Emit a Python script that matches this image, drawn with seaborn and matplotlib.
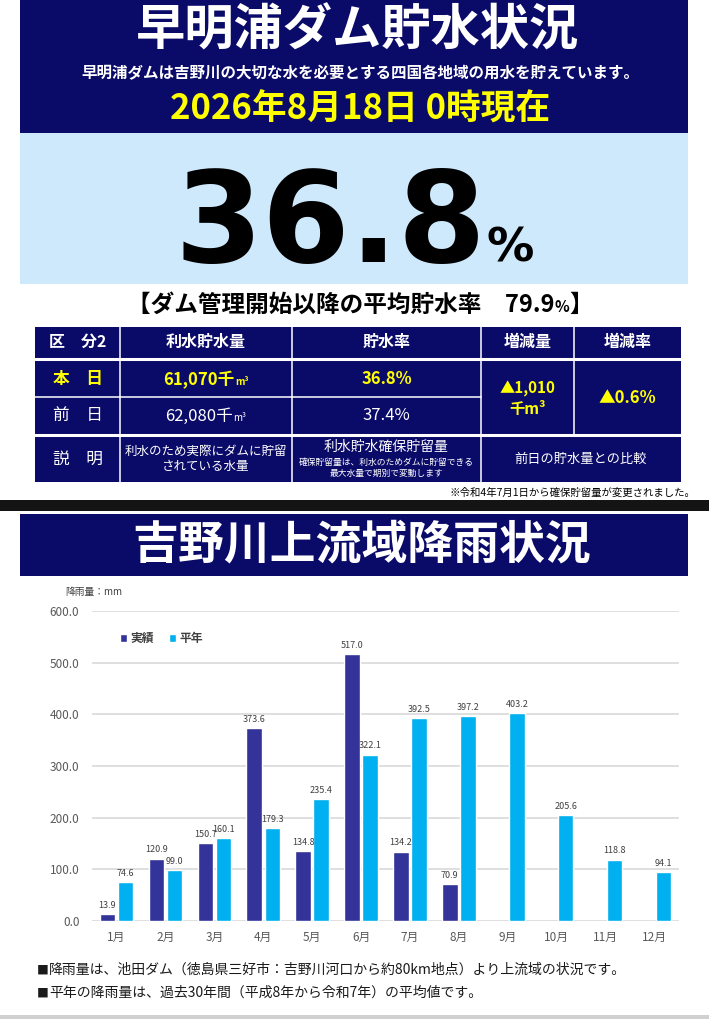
import numpy as np
import pandas as pd
import matplotlib
matplotlib.use('Agg')
import matplotlib.pyplot as plt
from matplotlib.patches import Rectangle
import seaborn as sns

sns.set_theme(style='white')
plt.rcParams['font.family'] = ['Noto Sans CJK JP', 'DejaVu Sans']

# ---- data ----
months = ['1月', '2月', '3月', '4月', '5月', '6月', '7月', '8月', '9月', '10月', '11月', '12月']
actual = [13.9, 120.9, 150.7, 373.6, 134.8, 517.0, 134.2, 70.9, np.nan, np.nan, np.nan, np.nan]
normal = [74.6, 99.0, 160.1, 179.3, 235.4, 322.1, 392.5, 397.2, 403.2, 205.6, 118.8, 94.1]
series = ['実績', '平年']
y_ticks = [0, 100, 200, 300, 400, 500, 600]

rate_today = '36.8'
rate_avg = '79.9'
vol_today = '61,070'
vol_prev = '62,080'
rate_prev = '37.4%'
vol_diff = '▲1,010'
rate_diff = '▲0.6%'

df = pd.DataFrame({
    '月': months * 2,
    '区分': [series[0]] * 12 + [series[1]] * 12,
    '降雨量': actual + normal,
})

NAVY = '#0a0a68'
LIGHTBOX = '#cde9fb'
YELLOW = '#ffff00'
DARK = '#333399'
LIGHT = '#00b0f0'
GREY = '#404040'

W, H = 709, 1023
fig = plt.figure(figsize=(W / 100, H / 100), dpi=100)
bg = fig.add_axes([0, 0, 1, 1])
bg.set_xlim(0, W)
bg.set_ylim(H, 0)
bg.axis('off')
renderer = fig.canvas.get_renderer()


def box(x0, y0, x1, y1, color, **kw):
    bg.add_patch(Rectangle((x0, y0), x1 - x0, y1 - y0, facecolor=color,
                           edgecolor='none', **kw))


def txt(x, y, s, size, color='white', weight='bold', ha='center', va='center', **kw):
    return bg.text(x, y, s, fontsize=size, color=color, fontweight=weight,
                   ha=ha, va=va, **kw)


def run(xc, y, parts, color='white', weight='bold', family=None, left=False):
    # several pieces of text on one baseline, centred as a group
    items = []
    for s, size in parts:
        t = bg.text(0, y, s, fontsize=size, color=color, fontweight=weight,
                    ha='left', va='baseline')
        if family:
            t.set_family(family)
        items.append((t, t.get_window_extent(renderer).width))
    x = xc if left else xc - sum(w for _, w in items) / 2
    for t, w in items:
        t.set_x(x)
        x += w


# ---- top banner ----
box(20, 0, 688, 133, NAVY)
txt(358, 31, '早明浦ダム貯水状況', 35.5)
txt(360, 73, '早明浦ダムは吉野川の大切な水を必要とする四国各地域の用水を貯えています。', 11.2)
txt(360, 109, '2026年8月18日 0時現在', 25, color=YELLOW)

box(20, 133, 688, 284, LIGHTBOX)
run(354, 262, [(rate_today, 91), ('%', 34)], color='black', family=['DejaVu Sans'])

run(360, 312, [('【ダム管理開始以降の平均貯水率　' + rate_avg, 17), ('%', 11), ('】', 17)],
    color='black')

# ---- table ----
box(35, 327, 681, 482, NAVY)
lw = 2.2
for yy in (358.5, 434.5):
    bg.plot([35, 681], [yy, yy], color='white', lw=lw)
bg.plot([35, 481], [397, 397], color='white', lw=1.1)
for xx in (120, 292, 481):
    bg.plot([xx, xx], [327, 482], color='white', lw=1.1)
bg.plot([574, 574], [327, 434], color='white', lw=1.1)

c1, c2, c3, c4, c5, c45 = 77.5, 206, 386.5, 527.5, 627.5, 581
for x, s in zip((c1, c2, c3, c4, c5), ('区　分2', '利水貯水量', '貯水率', '増減量', '増減率')):
    txt(x, 342, s, 11.5)

txt(c1, 379, '本　日', 12, color=YELLOW)
run(c2, 385, [(vol_today + '千', 12), ('m³', 7)], color=YELLOW)
txt(c3, 379, rate_today + '%', 12, color=YELLOW)
txt(c4, 389, vol_diff, 11, color=YELLOW)
run(c4, 414, [('千m³', 11)], color=YELLOW)
txt(c5, 398, rate_diff, 12, color=YELLOW)

txt(c1, 415, '前　日', 12, weight='normal')
run(c2, 421, [(vol_prev + '千', 12), ('m³', 7)], weight='normal')
txt(c3, 415, rate_prev, 12, weight='normal')

txt(c1, 459, '説　明', 12, weight='normal')
txt(c2, 459, '利水のため実際にダムに貯留\nされている水量', 9, weight='normal', linespacing=1.15)
txt(c3, 447, '利水貯水確保貯留量', 10, weight='normal')
txt(c3, 468, '確保貯留量は、利水のためダムに貯留できる\n最大水量で期別で変動します', 6.3,
    weight='normal', linespacing=1.25)
txt(c45, 459, '前日の貯水量との比較', 9.5, weight='normal')

txt(695, 493, '※令和4年7月1日から確保貯留量が変更されました。', 7.5, color='black',
    weight='normal', ha='right')

# ---- separator and second banner ----
box(0, 500, W, 511, '#141414')
box(20, 514, 688, 576, NAVY)
txt(362, 545, '吉野川上流域降雨状況', 33)

txt(65, 592, '降雨量：mm', 7, color=GREY, weight='normal', ha='left')

# ---- rainfall chart ----
ax = fig.add_axes([92 / W, 1 - 921 / H, 587 / W, 310 / H])
sns.barplot(data=df, x='月', y='降雨量', hue='区分', hue_order=series,
            palette=[DARK, LIGHT], width=0.74, gap=0.15, saturation=1,
            errorbar=None, ax=ax)
ax.set_ylim(0, 600)
ax.set_yticks(y_ticks)
ax.yaxis.set_major_formatter('{x:.1f}')
ax.set_xlabel('')
ax.set_ylabel('')
ax.grid(axis='y', color='#d9d9d9', lw=1.2)
ax.set_axisbelow(True)
for sp in ax.spines.values():
    sp.set_visible(False)
ax.tick_params(axis='both', length=0, labelsize=8.5, colors='#595959')
ax.tick_params(axis='x', pad=7)
ax.tick_params(axis='y', pad=9)
ax.set_facecolor('white')

for c in ax.containers:
    ax.bar_label(c, fmt='%.1f', padding=3, fontsize=6.5, color=GREY)

handles, labels = ax.get_legend_handles_labels()
leg = ax.legend(handles, labels, loc='center left', bbox_to_anchor=(0.03, 0.91),
                ncol=2, frameon=False, handlelength=0.6, handleheight=0.6,
                handletextpad=0.25, columnspacing=1.3, fontsize=8.5)
for t in leg.get_texts():
    t.set_color(GREY)
    t.set_fontweight('bold')

# ---- footnotes ----
run(37, 974, [('■', 8.5), ('降雨量は、池田ダム（徳島県三好市：吉野川河口から約80km地点）より上流域の状況です。', 10)],
    color='#1a1a1a', weight='normal', left=True)
run(37, 997, [('■', 8.5), ('平年の降雨量は、過去30年間（平成8年から令和7年）の平均値です。', 10)],
    color='#1a1a1a', weight='normal', left=True)
box(0, 1015, W, 1019, '#d0d0d0')

fig.savefig('out.png', dpi=100)
